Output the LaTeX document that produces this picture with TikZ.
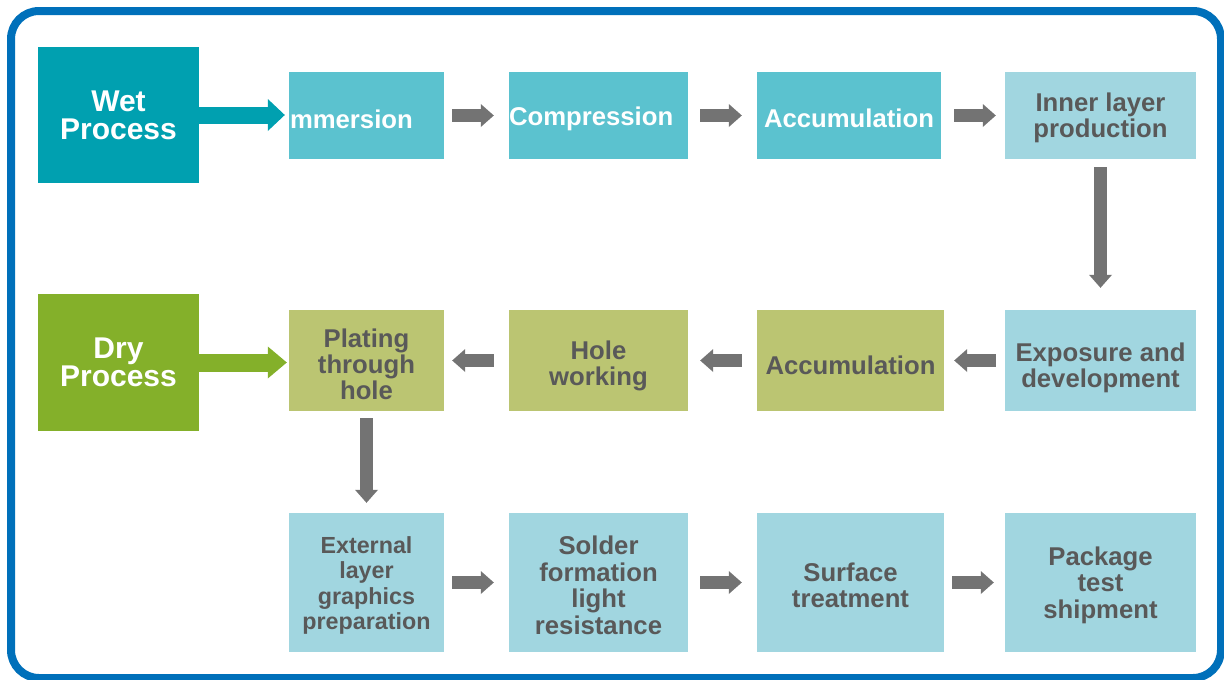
\documentclass[tikz,border=0pt]{standalone}
\usepackage{fontspec}
\setmainfont{Liberation Sans}
\usetikzlibrary{arrows.meta}

\definecolor{frameblue}{HTML}{0070BA}
\definecolor{wetteal}{HTML}{00A0B0}
\definecolor{boxteal}{HTML}{5BC2CF}
\definecolor{boxlight}{HTML}{A1D6E0}
\definecolor{drygreen}{HTML}{84B02A}
\definecolor{boxgreen}{HTML}{BBC572}
\definecolor{arrowgray}{HTML}{737373}
\definecolor{textgray}{HTML}{595959}

% line struts so every text block is centred on its full line box;
% the optional argument of \tstr lowers the block by half its value
\newcommand\tstr[1][0pt]{\rule{0pt}{\dimexpr0.905em+#1\relax}\ignorespaces}
\newcommand\bstr{\rule[-0.212em]{0pt}{0.212em}}

\tikzset{
  proc/.style={inner sep=0pt, align=center,
    font=\bfseries\fontsize{25.7}{26}\selectfont},
  topbox/.style={proc, fill=boxteal, text=white},
  lightbox/.style={proc, fill=boxlight, text=textgray},
  greenbox/.style={proc, fill=boxgreen, text=textgray},
  headbox/.style={proc, font=\bfseries\fontsize{30}{28}\selectfont, text=white},
  frame/.style={draw=frameblue, line width=8pt, rounded corners=28pt},
  garrow/.style={draw=arrowgray, line width=12.5pt,
    -{Triangle[width=23pt, length=13pt, line width=0pt]}},
  wetarrow/.style={draw=wetteal, line width=17pt,
    -{Triangle[width=32pt, length=17pt, line width=0pt]}},
  dryarrow/.style={draw=drygreen, line width=18pt,
    -{Triangle[width=32pt, length=19pt, line width=0pt]}},
}

\begin{document}
\begin{tikzpicture}[x=1pt, y=-1pt]
\useasboundingbox (0,0) rectangle (1224,680);
\fill[white] (0,0) rectangle (1224,680);
\draw[frame] (11,11) rectangle (1221,678);

% process heads
\node[headbox, fill=wetteal, minimum width=161pt, minimum height=136pt] (wet) at (118.5,115) {\tstr Wet\\Process\bstr};
\node[headbox, fill=drygreen, minimum width=161pt, minimum height=137pt] (dry) at (118.5,362.5) {\tstr Dry\\Process\bstr};

% first row
\node[topbox, minimum height=87pt, text width=153pt, inner xsep=1pt, align=left] (imm) at (366.5,115.5) {\tstr[8pt]mmersion\bstr};
\node[topbox, minimum height=87pt, text width=179pt, align=left] (comp) at (598.5,115.5) {\tstr[2pt]Compression\bstr};
\node[topbox, minimum width=184pt, minimum height=87pt] (acc1) at (849,115.5) {\tstr[7pt]Accumulation\bstr};
\node[lightbox, minimum width=191pt, minimum height=87pt] (inner) at (1100.5,115.5) {\tstr Inner layer\\production\bstr};

% second row
\node[greenbox, minimum width=155pt, minimum height=101pt] (plat) at (366.5,360.5) {\tstr[8pt]Plating\\through\\hole\bstr};
\node[greenbox, minimum width=179pt, minimum height=101pt] (hole) at (598.5,360.5) {\tstr[7pt]Hole\\working\bstr};
\node[greenbox, minimum width=187pt, minimum height=101pt] (acc2) at (850.5,360.5) {\tstr[11pt]Accumulation\bstr};
\node[lightbox, minimum width=191pt, minimum height=101pt] (exp) at (1100.5,360.5) {\tstr[10pt]Exposure and\\development\bstr};

% third row
\node[lightbox, font=\bfseries\fontsize{23.3}{25.3}\selectfont, minimum width=155pt, minimum height=139pt] (ext) at (366.5,582.5) {\tstr[2pt]External\\layer\\graphics\\preparation\bstr};
\node[lightbox, font=\bfseries\fontsize{25.7}{26.5}\selectfont, minimum width=179pt, minimum height=139pt] (sol) at (598.5,582.5) {\tstr[6pt]Solder\\formation\\light\\resistance\bstr};
\node[lightbox, minimum width=187pt, minimum height=139pt] (surf) at (850.5,582.5) {\tstr[6pt]Surface\\treatment\bstr};
\node[lightbox, font=\bfseries\fontsize{25.7}{26.5}\selectfont, minimum width=191pt, minimum height=139pt] (pack) at (1100.5,582.5) {\tstr[1pt]Package\\test\\shipment\bstr};

% entry arrows
\draw[wetarrow] (wet.east) -- ([xshift=-4pt]imm.west |- wet.east);
\draw[dryarrow] (dry.east) -- ([xshift=-2pt]plat.west |- dry.east);

% flow arrows, first row
\draw[garrow] ([xshift=8pt]imm.east) -- ([xshift=-15pt]comp.west);
\draw[garrow] ([xshift=12pt]comp.east) -- ([xshift=-15pt]acc1.west);
\draw[garrow] ([xshift=13pt]acc1.east) -- ([xshift=-9pt]inner.west);
\draw[garrow] ([yshift=-8pt]inner.south) -- ([yshift=22pt]exp.north);

% second row, right to left
\draw[garrow] ([xshift=-9pt]exp.west) -- ([xshift=10pt]acc2.east);
\draw[garrow] ([xshift=-15pt]acc2.west) -- ([xshift=12pt]hole.east);
\draw[garrow] ([xshift=-15pt]hole.west) -- ([xshift=8pt]plat.east);
\draw[garrow] ([yshift=-7pt]plat.south) -- ([yshift=10pt]ext.north);

% third row
\draw[garrow] ([xshift=8pt]ext.east) -- ([xshift=-15pt]sol.west);
\draw[garrow] ([xshift=12pt]sol.east) -- ([xshift=-15pt]surf.west);
\draw[garrow] ([xshift=8pt]surf.east) -- ([xshift=-11pt]pack.west);
\end{tikzpicture}
\end{document}
